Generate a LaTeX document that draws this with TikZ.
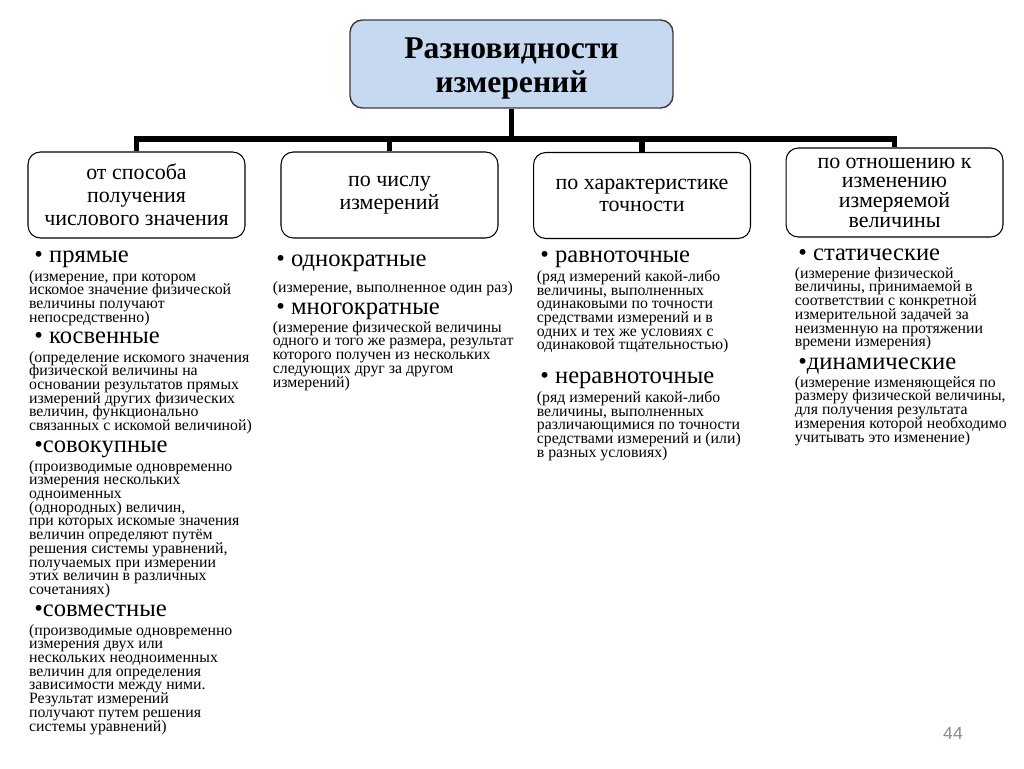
\documentclass[tikz,border=0pt]{standalone}
\usepackage{fontspec}
\setmainfont{Liberation Serif}
\newfontfamily\pagefont{Liberation Sans}
\usepackage{tikz}
\usetikzlibrary{positioning}
\definecolor{titlefill}{HTML}{C6D9F1}
\definecolor{edge}{HTML}{3A3A3A}
\definecolor{pagenum}{HTML}{8C8C8C}
\newcommand\tightlines{\lineskiplimit=-6pt\relax\lineskip=0pt\relax}
\tikzset{
  titlebox/.style={draw=edge, fill=titlefill, rounded corners=7pt, line width=0.8pt,
    minimum width=6.46cm, minimum height=1.76cm, align=center,
    font=\fontsize{18}{19.3}\selectfont\bfseries},
  catbox/.style={draw=black, rounded corners=7pt, line width=0.6pt,
    minimum width=4.34cm, minimum height=1.72cm, align=center,
    font=\fontsize{12.5}{13}\selectfont},
  trunk/.style={line width=3.4pt, line join=miter},
  hd/.style={anchor=west, inner sep=0pt, text height=7.5pt, text depth=2.5pt,
    font=\fontsize{14}{16}\selectfont},
  dsc/.style={anchor=north west, inner sep=0pt, align=left,
    font=\fontsize{9}{7.8}\selectfont\tightlines},
  pg/.style={text=pagenum, font=\pagefont\fontsize{10}{12}\selectfont}
}

\begin{document}
\begin{tikzpicture}[x=0.02cm, y=-0.02cm]
  \path[use as bounding box, fill=white] (0,0) rectangle (1024,768);

  % title and the four groups
  \node[titlebox] (top) at (511.5,64) {\rule{0pt}{17pt}Разновидности\\измерений};
  \node[catbox] (c1) at (136.5,195) {от способа\\получения\\числового значения};
  \node[catbox] (c2) at (389.5,195) {по числу\\измерений};
  \node[catbox] (c3) at (642,195.5) {по характеристике\\точности};
  \node[catbox, minimum height=1.78cm, font=\fontsize{12.5}{11.2}\selectfont]
    (c4) at (894.5,192.5) {по отношению к\\изменению\\измеряемой\\величины};

  % thick tree
  \coordinate (bar) at (0,139);
  \draw[trunk] (top.south) -- (top.south |- bar) -| (c1.north);
  \draw[trunk] (top.south |- bar) -| (c2.north);
  \draw[trunk] (top.south |- bar) -| (c3.north);
  \draw[trunk] (top.south |- bar) -| (c4.north);

  % column 1
  \node[hd] (pr) at (34,258) {• прямые};
  \node[dsc] (prd) at ([xshift=-3pt,yshift=-1.5pt]pr.south west) {(измерение, при котором\\искомое значение физической\\величины получают\\непосредственно)};
  \node[hd] (ks) at (34,339) {• косвенные};
  \node[dsc] (ksd) at ([xshift=-3pt,yshift=-1.5pt]ks.south west) {(определение искомого значения\\физической величины на\\основании результатов прямых\\измерений других физических\\величин, функционально\\связанных с искомой величиной)};
  \node[hd] (sv) at (34,448) {•совокупные};
  \node[dsc] (svd) at ([xshift=-3pt,yshift=-1.5pt]sv.south west) {(производимые одновременно\\измерения нескольких\\одноименных\\(однородных) величин,\\при которых искомые значения\\величин определяют путём\\решения системы уравнений,\\получаемых при измерении\\этих величин в различных\\сочетаниях)};
  \node[hd] (sm) at (34,612) {•совместные};
  \node[dsc] (smd) at ([xshift=-3pt,yshift=-1.5pt]sm.south west) {(производимые одновременно\\измерения двух или\\нескольких неодноименных\\величин для определения\\зависимости между ними.\\Результат измерений\\получают путем решения\\системы уравнений)};

  % column 2
  \node[hd] (ok) at (276,262) {• однократные};
  \node[dsc] (okd) at ([xshift=-2pt,yshift=-5.5pt]ok.south west) {(измерение, выполненное один раз)};
  \node[hd] (mk) at (276,310) {• многократные};
  \node[dsc] (mkd) at ([xshift=-2pt,yshift=-1pt]mk.south west) {(измерение физической величины\\одного и того же размера, результат\\которого получен из нескольких\\следующих друг за другом\\измерений)};

  % column 3
  \node[hd] (rt) at (540,258) {• равноточные};
  \node[dsc] (rtd) at ([xshift=-2pt,yshift=-1.5pt]rt.south west) {(ряд измерений какой-либо\\величины, выполненных\\одинаковыми по точности\\средствами измерений и в\\одних и тех же условиях с\\одинаковой тщательностью)};
  \node[hd] (nt) at (540,379) {• неравноточные};
  \node[dsc] (ntd) at ([xshift=-2pt,yshift=-1.5pt]nt.south west) {(ряд измерений какой-либо\\величины, выполненных\\различающимися по точности\\средствами измерений и (или)\\в разных условиях)};

  % column 4
  \node[hd] (st) at (798,256) {• статические};
  \node[dsc] (std) at ([xshift=-2pt,yshift=-1pt]st.south west) {(измерение физической\\величины, принимаемой в\\соответствии с конкретной\\измерительной задачей за\\неизменную на протяжении\\времени измерения)};
  \node[hd] (dn) at (798,365) {•динамические};
  \node[dsc] (dnd) at ([xshift=-2pt,yshift=-1pt]dn.south west) {(измерение изменяющейся по\\размеру физической величины,\\для получения результата\\измерения которой необходимо\\учитывать это изменение)};

  \node[pg] (num) at (953,733) {44};
\end{tikzpicture}
\end{document}
